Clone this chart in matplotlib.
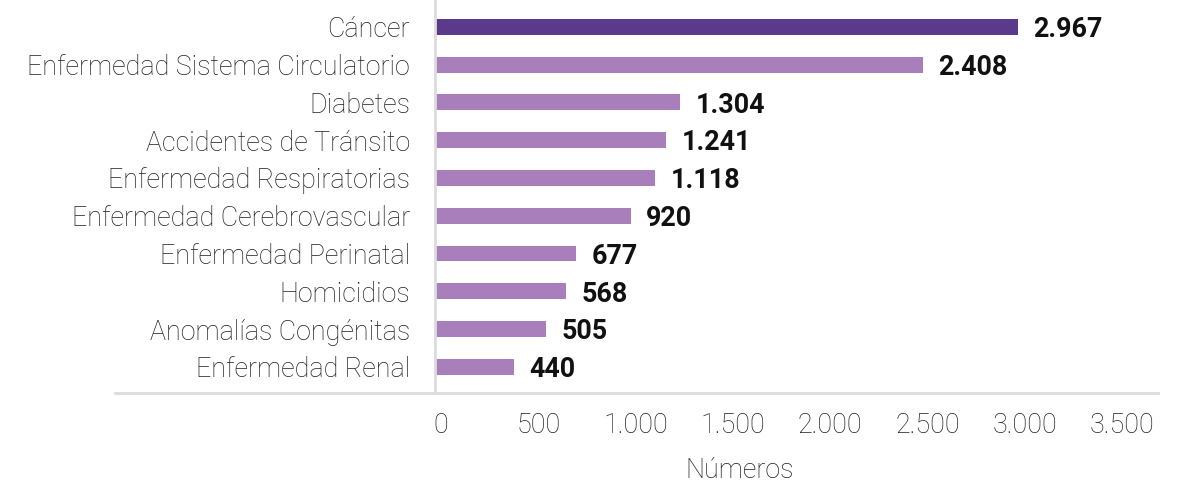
import matplotlib
matplotlib.use("Agg")
import matplotlib.pyplot as plt
import matplotlib.transforms as mtransforms
from matplotlib.lines import Line2D

causas = ["Cáncer", "Enfermedad Sistema Circulatorio", "Diabetes",
          "Accidentes de Tránsito", "Enfermedad Respiratorias",
          "Enfermedad Cerebrovascular", "Enfermedad Perinatal",
          "Homicidios", "Anomalías Congénitas", "Enfermedad Renal"]
# numbers printed next to each bar
etiquetas = [2967, 2408, 1304, 1241, 1118, 920, 677, 568, 505, 440]
# bar lengths as read against the x axis (they do not match the printed numbers)
longitudes = [2996, 2508, 1259, 1187, 1131, 1007, 725, 673, 570, 406]
ticks = [0, 500, 1000, 1500, 2000, 2500, 3000, 3500]

oscuro = "#5b3a8c"
claro = "#a87fbb"
gris = "#dcdcdc"
texto = "#1f1f1f"


def miles(v):
    return f"{v:,}".replace(",", ".")


plt.rcParams["font.family"] = ["Roboto", "DejaVu Sans"]

fig = plt.figure(figsize=(11.86, 4.86), dpi=100)
ax = fig.add_axes([435 / 1186, 93 / 486, 723 / 1186, 393 / 486])

pos = list(range(len(causas)))
colores = [oscuro] + [claro] * (len(causas) - 1)
ax.barh(pos, longitudes, height=0.42, color=colores, zorder=2)

for p, l, e in zip(pos, longitudes, etiquetas):
    ax.annotate(miles(e), (l, p), xytext=(11, -2), textcoords="offset points",
                va="center", ha="left", fontsize=19.4, fontweight="bold",
                color="#111111")

ax.set_xlim(0, 3715)
ax.set_ylim(9.69, -0.71)
ax.set_yticks(pos)
ax.set_yticklabels(causas, fontsize=19.4, fontweight="light", color=texto)
ax.set_xticks(ticks)
ax.set_xticklabels([miles(t) for t in ticks], fontsize=19.4,
                   fontweight="light", color=texto)
ax.tick_params(axis="y", length=0, pad=18)
ax.tick_params(axis="x", length=0, pad=14)
off = mtransforms.ScaledTranslation(6 / 100, 0, fig.dpi_scale_trans)
for lab in ax.get_xticklabels():
    lab.set_transform(lab.get_transform() + off)

for s in ["top", "right", "bottom"]:
    ax.spines[s].set_visible(False)
ax.spines["left"].set_color(gris)
ax.spines["left"].set_linewidth(2)

ax.add_line(Line2D([-0.443, 1.0], [0, 0], transform=ax.transAxes,
                   color=gris, linewidth=2, clip_on=False))

ax.set_xlabel("Números", fontsize=19.4, fontweight="light", color=texto)
ax.xaxis.label.set_va("center")
ax.xaxis.set_label_coords(0.422, -0.198)

fig.savefig("out.png", dpi=100)
